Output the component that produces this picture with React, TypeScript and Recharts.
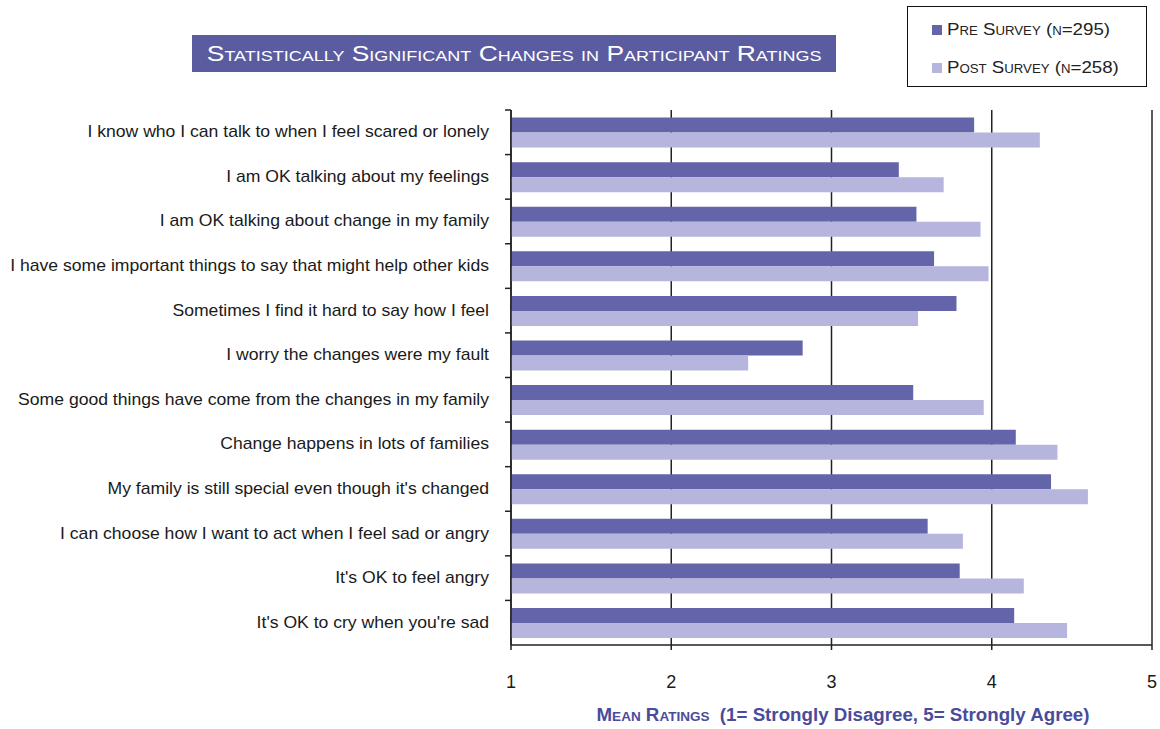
import React from "react";
import { BarChart, Bar, XAxis, YAxis, CartesianGrid } from "recharts";

const categories = [
  "I know who I can talk to when I feel scared or lonely",
  "I am OK talking about my feelings",
  "I am OK talking about change in my family",
  "I have some important things to say that might help other kids",
  "Sometimes I find it hard to say how I feel",
  "I worry the changes were my fault",
  "Some good things have come from the changes in my family",
  "Change happens in lots of families",
  "My family is still special even though it's changed",
  "I can choose how I want to act when I feel sad or angry",
  "It's OK to feel angry",
  "It's OK to cry when you're sad",
];
const preSurvey = [3.89, 3.42, 3.53, 3.64, 3.78, 2.82, 3.51, 4.15, 4.37, 3.6, 3.8, 4.14];
const postSurvey = [4.3, 3.7, 3.93, 3.98, 3.54, 2.48, 3.95, 4.41, 4.6, 3.82, 4.2, 4.47];
const xTicks = [1, 2, 3, 4, 5];

const PRE = "#6464aa";
const POST = "#b5b5de";
const W = 1160;
const H = 729;
const PLOT_LEFT = 511;
const PLOT_TOP = 110;
const PLOT_BOTTOM = 645;
const BAND = (PLOT_BOTTOM - PLOT_TOP) / categories.length;
const FONT = "'Liberation Sans', Arial, sans-serif";

const data = categories.map((label, i) => ({ label, pre: preSurvey[i], post: postSurvey[i] }));

// label at band centre, small tick mark at the top edge of each band
function CategoryTick(props: any) {
  const { y, payload } = props;
  return (
    <g>
      <line x1={PLOT_LEFT - 6} x2={PLOT_LEFT} y1={y - BAND / 2} y2={y - BAND / 2} stroke="#222" strokeWidth={1.5} />
      <text
        transform={`translate(${PLOT_LEFT - 22},${y + 5}) scale(1.1,1)`}
        textAnchor="end"
        fontSize={16}
        fill="#1a1a1a"
        fontFamily={FONT}
      >
        {payload.value}
      </text>
    </g>
  );
}

function XTick(props: any) {
  const { x, y, payload } = props;
  return (
    <text x={x} y={y + 28} textAnchor="middle" fontSize={18} fill="#1a1a1a" fontFamily={FONT}>
      {payload.value}
    </text>
  );
}

export default function App() {
  return (
    <div style={{ position: "absolute", left: 0, top: 0, width: W, height: H, background: "#fff", fontFamily: FONT }}>
      {/* title banner */}
      <div
        style={{
          position: "absolute", left: 192, top: 35, width: 644, height: 37, background: "#5b5b9f",
          color: "#fff", fontSize: 22, fontVariant: "small-caps", display: "flex", alignItems: "center", justifyContent: "center",
        }}
      >
        <span style={{ display: "inline-block", transform: "scaleX(1.2)", whiteSpace: "nowrap" }}>
          Statistically Significant Changes in Participant Ratings
        </span>
      </div>

      {/* legend box */}
      <div style={{ position: "absolute", left: 907, top: 6, width: 238, height: 79, border: "1.5px solid #111", background: "#fff" }}>
        {[
          { c: PRE, t: "Pre Survey (n=295)", top: 13 },
          { c: POST, t: "Post Survey (n=258)", top: 51 },
        ].map((it) => (
          <div key={it.t} style={{ position: "absolute", left: 24, top: it.top, display: "flex", alignItems: "center", fontSize: 17, fontVariant: "small-caps", color: "#222", whiteSpace: "nowrap" }}>
            <span style={{ display: "inline-block", width: 10, height: 10, background: it.c, marginRight: 5 }} />
            <span style={{ display: "inline-block", transform: "scaleX(1.1)", transformOrigin: "left center" }}>{it.t}</span>
          </div>
        ))}
      </div>

      <BarChart
        width={W}
        height={H}
        data={data}
        layout="vertical"
        margin={{ top: PLOT_TOP, right: W - 1152, bottom: 44, left: 11 }}
        barCategoryGap="17%"
        barGap={0}
      >
        <CartesianGrid horizontal={false} stroke="#222" strokeWidth={1.5} />
        <XAxis
          type="number"
          domain={[1, 5]}
          ticks={xTicks}
          allowDataOverflow
          height={40}
          tickSize={5}
          tickMargin={10}
          stroke="#222"
          strokeWidth={1.5}
          tick={<XTick />}
        />
        <YAxis
          type="category"
          dataKey="label"
          width={500}
          tickLine={false}
          stroke="#222"
          strokeWidth={1.5}
          interval={0}
          tick={<CategoryTick />}
        />
        <Bar dataKey="pre" fill={PRE} isAnimationActive={false} />
        <Bar dataKey="post" fill={POST} isAnimationActive={false} />
      </BarChart>

      <div
        style={{
          position: "absolute", left: 598, top: 705, width: 490, textAlign: "center", fontSize: 18, fontWeight: "bold",
          color: "#4b4b9b", whiteSpace: "nowrap",
        }}
      >
        <span style={{ display: "inline-block", transform: "scaleX(1.04)" }}>
          <span style={{ fontVariant: "small-caps" }}>Mean Ratings</span>&nbsp; (1= Strongly Disagree, 5= Strongly Agree)
        </span>
      </div>
    </div>
  );
}
